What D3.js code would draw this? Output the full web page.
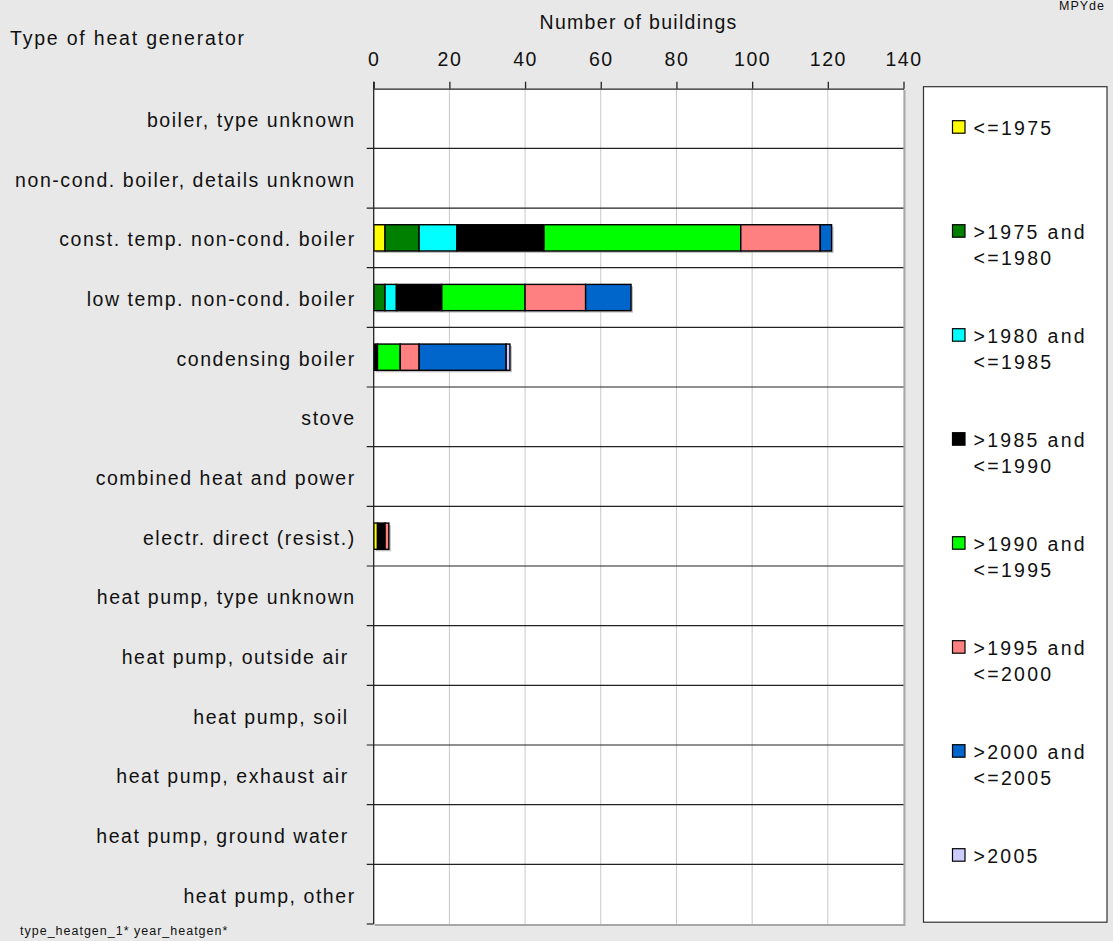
<!DOCTYPE html>
<html>
<head>
<meta charset="utf-8">
<script src="https://cdn.jsdelivr.net/npm/d3@7"></script>
<style>
  body { margin: 0; background: #e8e8e8; }
  text { font-family: "Liberation Sans", Arial, sans-serif; fill: #111; }
</style>
</head>
<body>
<script>
var w = 1113,
    h = 941;

// categories (trailing spaces kept as in the original labels)
var categories = [
    "boiler, type unknown",
    "non-cond. boiler, details unknown",
    "const. temp. non-cond. boiler",
    "low temp. non-cond. boiler",
    "condensing boiler",
    "stove",
    "combined heat and power",
    "electr. direct (resist.)",
    "heat pump, type unknown",
    "heat pump, outside air ",
    "heat pump, soil ",
    "heat pump, exhaust air ",
    "heat pump, ground water ",
    "heat pump, other"
];

var seriesKeys = ["y1975", "y1980", "y1985", "y1990", "y1995", "y2000", "y2005", "yAfter"];
var seriesLabels = [
    ["<=1975"],
    [">1975 and", "<=1980"],
    [">1980 and", "<=1985"],
    [">1985 and", "<=1990"],
    [">1990 and", "<=1995"],
    [">1995 and", "<=2000"],
    [">2000 and", "<=2005"],
    [">2005"]
];
var seriesColors = ["#ffff00", "#008000", "#00ffff", "#000000", "#00ff00", "#ff8080", "#0066cc", "#ccccff"];

// number of buildings per category, one array per year class
var y1975  = [0, 0,  3,  0,  0, 0, 0, 1, 0, 0, 0, 0, 0, 0];
var y1980  = [0, 0,  9,  3,  0, 0, 0, 0, 0, 0, 0, 0, 0, 0];
var y1985  = [0, 0, 10,  3,  0, 0, 0, 0, 0, 0, 0, 0, 0, 0];
var y1990  = [0, 0, 23, 12,  1, 0, 0, 2, 0, 0, 0, 0, 0, 0];
var y1995  = [0, 0, 52, 22,  6, 0, 0, 0, 0, 0, 0, 0, 0, 0];
var y2000  = [0, 0, 21, 16,  5, 0, 0, 1, 0, 0, 0, 0, 0, 0];
var y2005  = [0, 0,  3, 12, 23, 0, 0, 0, 0, 0, 0, 0, 0, 0];
var yAfter = [0, 0,  0,  0,  1, 0, 0, 0, 0, 0, 0, 0, 0, 0];

var xTicks = [0, 20, 40, 60, 80, 100, 120, 140];

var seriesValues = [y1975, y1980, y1985, y1990, y1995, y2000, y2005, yAfter];
var table = categories.map(function(c, i) {
    var row = { name: c };
    seriesKeys.forEach(function(k, j) { row[k] = seriesValues[j][i]; });
    return row;
});

var margin = { top: 88.7, left: 373.7 };
var width = 529.8,
    height = 835.3;

var x = d3.scaleLinear()
    .domain([0, 140])
    .range([0, width]);

var y = d3.scaleBand()
    .domain(categories)
    .range([0, height])
    .paddingInner(0.56)
    .paddingOuter(0.28);

var svg = d3.select("body").append("svg")
    .attr("width", w)
    .attr("height", h);

svg.append("text")
    .text("MPYde")
    .attr("x", 1105)
    .attr("y", 10)
    .attr("text-anchor", "end")
    .attr("font-size", 12.5)
    .attr("letter-spacing", 1);

svg.append("text")
    .text("Type of heat generator")
    .attr("x", 10)
    .attr("y", 45)
    .attr("font-size", 19.5)
    .attr("letter-spacing", 1.8);

svg.append("text")
    .text("Number of buildings")
    .attr("x", margin.left + x(70))
    .attr("y", 29)
    .attr("text-anchor", "middle")
    .attr("font-size", 19.5)
    .attr("letter-spacing", 1.3);

svg.append("text")
    .text("type_heatgen_1* year_heatgen*")
    .attr("x", 20)
    .attr("y", 935)
    .attr("font-size", 12.5)
    .attr("letter-spacing", 1);

var chart = svg.append("g")
    .attr("transform", "translate(" + margin.left + "," + margin.top + ")");

// plot background with grey right/bottom edge
chart.append("rect")
    .attr("x", 1)
    .attr("y", 1)
    .attr("width", width + 1)
    .attr("height", height + 1)
    .attr("fill", "#a8a8a8");
chart.append("rect")
    .attr("width", width)
    .attr("height", height)
    .attr("fill", "#fff");

// vertical gridlines
chart.selectAll(".grid")
    .data(xTicks.slice(1))
    .enter().append("line")
    .attr("class", "grid")
    .attr("x1", function(d) { return x(d); })
    .attr("x2", function(d) { return x(d); })
    .attr("y1", 0)
    .attr("y2", height)
    .attr("stroke", "#c8c8c8")
    .attr("stroke-width", 1);

// category separators with small ticks to the left
var step = y.step();
chart.selectAll(".sep")
    .data(d3.range(1, categories.length + 1))
    .enter().append("line")
    .attr("class", "sep")
    .attr("x1", -7)
    .attr("x2", function(d) { return d === categories.length ? 0 : width; })
    .attr("y1", function(d) { return d * step; })
    .attr("y2", function(d) { return d * step; })
    .attr("stroke", "#222")
    .attr("stroke-width", 1.2);

// category labels
chart.selectAll(".cat")
    .data(categories)
    .enter().append("text")
    .attr("class", "cat")
    .attr("x", -18)
    .attr("y", function(d) { return y(d) + y.bandwidth() / 2 + 8.5; })
    .attr("text-anchor", "end")
    .attr("font-size", 19.5)
    .attr("letter-spacing", 1.55)
    .style("white-space", "pre")
    .text(function(d) { return d; });

// stacked bars
var stacked = d3.stack().keys(seriesKeys)(table);

var shadow = chart.append("g");
shadow.selectAll("rect")
    .data(table.filter(function(d) { return d3.sum(seriesKeys, function(k) { return d[k]; }) > 0; }))
    .enter().append("rect")
    .attr("x", 2)
    .attr("y", function(d) { return y(d.name) + 2; })
    .attr("width", function(d) { return x(d3.sum(seriesKeys, function(k) { return d[k]; })); })
    .attr("height", y.bandwidth())
    .attr("fill", "#999")
    .attr("opacity", 0.6);

var layers = chart.selectAll(".layer")
    .data(stacked)
    .enter().append("g")
    .attr("class", "layer")
    .attr("fill", function(d, i) { return seriesColors[i]; });

layers.selectAll("rect")
    .data(function(d) { return d.filter(function(p) { return p[1] - p[0] > 0; }); })
    .enter().append("rect")
    .attr("x", function(d) { return x(d[0]); })
    .attr("y", function(d) { return y(d.data.name); })
    .attr("width", function(d) { return x(d[1]) - x(d[0]); })
    .attr("height", y.bandwidth())
    .attr("stroke", "#000")
    .attr("stroke-width", 1.4);

// top axis
var axis = chart.append("g")
    .call(d3.axisTop(x)
        .tickValues(xTicks)
        .tickSize(7)
        .tickSizeOuter(0)
        .tickPadding(16));
axis.select(".domain").attr("stroke", "#222").attr("stroke-width", 1.3);
axis.selectAll(".tick line").attr("stroke", "#222").attr("stroke-width", 1.3);
axis.selectAll(".tick text")
    .attr("font-size", 19.5)
    .attr("font-family", "Liberation Sans, Arial, sans-serif")
    .attr("letter-spacing", 1.5)
    .attr("fill", "#111");

// left axis line
chart.append("line")
    .attr("x1", 0)
    .attr("x2", 0)
    .attr("y1", -7)
    .attr("y2", height)
    .attr("stroke", "#222")
    .attr("stroke-width", 1.3);

// legend
var legend = svg.append("g")
    .attr("transform", "translate(923.5,86.7)");

legend.append("rect")
    .attr("width", 183.5)
    .attr("height", 835.5)
    .attr("fill", "#fff")
    .attr("stroke", "#333")
    .attr("stroke-width", 1.2);

var items = legend.selectAll(".item")
    .data(seriesLabels)
    .enter().append("g")
    .attr("class", "item")
    .attr("transform", function(d, i) { return "translate(0," + (40.5 + i * 104) + ")"; });

items.append("rect")
    .attr("x", 29)
    .attr("y", -6.5)
    .attr("width", 12.5)
    .attr("height", 12.5)
    .attr("fill", function(d, i) { return seriesColors[i]; })
    .attr("stroke", "#000")
    .attr("stroke-width", 1.2);

items.append("text")
    .attr("x", 50)
    .attr("font-size", 19.5)
    .attr("letter-spacing", 2.3)
    .selectAll("tspan")
    .data(function(d) { return d; })
    .enter().append("tspan")
    .attr("x", 50)
    .attr("y", function(d, i) { return 7.5 + i * 26; })
    .text(function(d) { return d; });
</script>
</body>
</html>
